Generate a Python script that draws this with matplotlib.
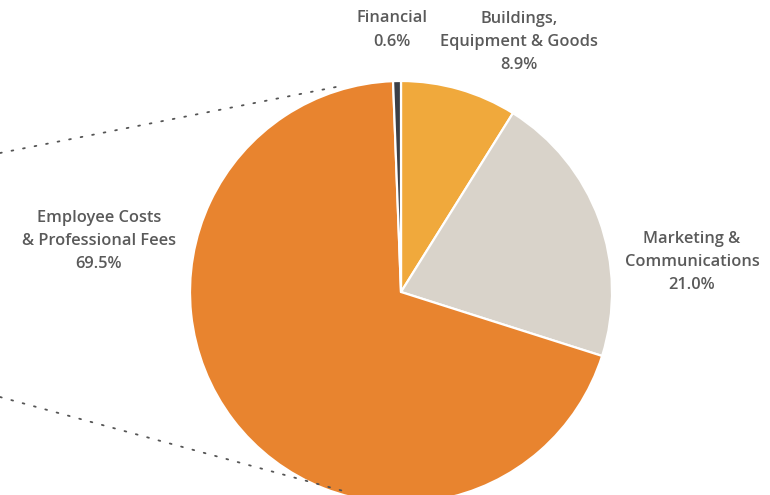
import matplotlib.pyplot as plt

# data, clockwise from the top
labels = ["Buildings,\nEquipment & Goods", "Marketing &\nCommunications",
          "Employee Costs\n& Professional Fees", "Financial"]
shares = [8.9, 21.0, 69.5, 0.6]
colors = ["#F0A93C", "#D9D3CA", "#E8842F", "#3B3F46"]

# label positions (pixels, top-left origin)
label_pos = [(519, 42), (692, 262), (99, 241), (392, 30)]

W, H = 770, 495
fig = plt.figure(figsize=(7.7, 4.95), dpi=100)
ax = fig.add_axes([0, 0, 1, 1])

ax.pie(shares, colors=colors, startangle=90, counterclock=False,
       center=(401, H - 292), radius=211, frame=True,
       wedgeprops=dict(edgecolor="white", linewidth=1.6))

for (lab, s), (x, y) in zip(zip(labels, shares), label_pos):
    ax.text(x, H - y, f"{lab}\n{s:.1f}%", ha="center", va="center",
            fontsize=11.8, color="#5a5a5a", linespacing=1.6,
            family="Open Sans", weight="semibold")

# dotted leader lines to the left edge
for (x0, y0), (x1, y1) in [((0, 153), (336, 87)), ((0, 397), (347, 492))]:
    ax.plot([x0, x1], [H - y0, H - y1], color="#555555", lw=1.3,
            ls=(0, (1, 5.5)), dash_capstyle="round")

ax.set_xlim(0, W)
ax.set_ylim(0, H)
ax.set_axis_off()

fig.savefig("out.png", dpi=100)
